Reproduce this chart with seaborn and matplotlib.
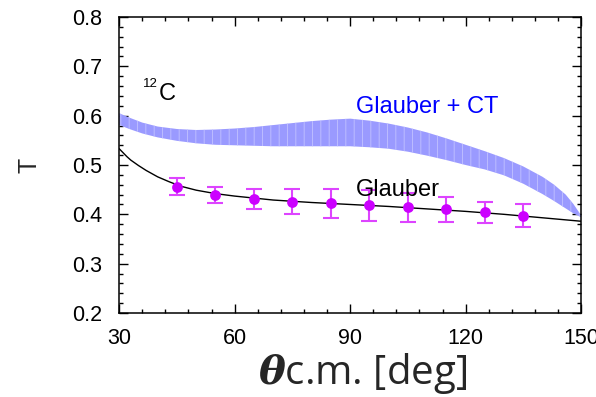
import numpy as np
import pandas as pd
import matplotlib
matplotlib.use("Agg")
import matplotlib.pyplot as plt
from matplotlib.ticker import MultipleLocator
import seaborn as sns

# ---- data ----
theta_data = [45, 55, 65, 75, 85, 95, 105, 115, 125, 135]
T_data = [0.456, 0.439, 0.431, 0.426, 0.422, 0.418, 0.414, 0.410, 0.404, 0.397]
T_err = [0.017, 0.016, 0.020, 0.025, 0.029, 0.032, 0.030, 0.026, 0.021, 0.023]

theta_glauber = [30, 31, 32, 33, 35, 37, 40, 43, 46, 50, 55, 60, 65, 70, 80, 90, 100,
                 110, 120, 130, 140, 150]
T_glauber = [0.533, 0.525, 0.517, 0.510, 0.499, 0.489, 0.476, 0.466, 0.457, 0.449, 0.442,
             0.437, 0.433, 0.429, 0.424, 0.420, 0.416, 0.411, 0.406, 0.400, 0.393, 0.386]

theta_ct = [30, 33, 36, 40, 45, 50, 55, 60, 65, 70, 75, 80, 85, 90, 95, 100, 105, 110,
            115, 120, 125, 130, 135, 140, 143, 146, 148, 150]
T_ct_upper = [0.605, 0.595, 0.586, 0.578, 0.573, 0.571, 0.572, 0.574, 0.577, 0.581, 0.585,
              0.589, 0.592, 0.594, 0.590, 0.584, 0.576, 0.566, 0.554, 0.541, 0.528, 0.514,
              0.497, 0.476, 0.460, 0.440, 0.421, 0.398]
T_ct_lower = [0.581, 0.572, 0.564, 0.556, 0.549, 0.544, 0.541, 0.540, 0.539, 0.538, 0.538,
              0.538, 0.538, 0.538, 0.536, 0.533, 0.527, 0.519, 0.510, 0.500, 0.491, 0.479,
              0.462, 0.441, 0.427, 0.412, 0.402, 0.394]

xticks = [30, 60, 90, 120, 150]
yticks = [0.2, 0.3, 0.4, 0.5, 0.6, 0.7, 0.8]

sns.set_style("ticks")
plt.rcParams['font.family'] = ['Liberation Sans', 'DejaVu Sans']
plt.rcParams['mathtext.fontset'] = 'dejavuserif'
plt.rcParams['hatch.linewidth'] = 0.6

fig = plt.figure(figsize=(5.96, 3.97), dpi=100)
ax = fig.add_axes([0.2, 0.2116, 0.775, 0.7455])

# Glauber + CT band
ax.fill_between(theta_ct, T_ct_lower, T_ct_upper, facecolor='#9a9aff', edgecolor='#c2c2ff',
                hatch='||', linewidth=0, zorder=1)

# Glauber line
df_g = pd.DataFrame({'theta': theta_glauber, 'T': T_glauber})
sns.lineplot(data=df_g, x='theta', y='T', color='black', linewidth=1.0, ax=ax, zorder=2)

# data points
ax.errorbar(theta_data, T_data, yerr=T_err, fmt='none', ecolor='#dd44ff', elinewidth=1.5,
            capsize=6, capthick=1.5, zorder=3)
df_d = pd.DataFrame({'theta': theta_data, 'T': T_data})
sns.scatterplot(data=df_d, x='theta', y='T', color='#cc00ff', s=60, edgecolor='#cc00ff',
                linewidth=0, ax=ax, zorder=4)

ax.set_xlim(30, 150)
ax.set_ylim(0.2, 0.8)
ax.set_xticks(xticks)
ax.set_yticks(yticks)
ax.set_xticklabels([str(v) for v in xticks])
ax.set_yticklabels([f"{v:.1f}" for v in yticks])
ax.xaxis.set_minor_locator(MultipleLocator(6))
ax.yaxis.set_minor_locator(MultipleLocator(0.02))
ax.tick_params(which='both', direction='in', top=True, right=True, labelsize=15.5,
               colors='black')
ax.tick_params(axis='x', which='major', pad=11)
ax.tick_params(axis='y', which='major', pad=12)
ax.tick_params(which='major', length=6.5, width=1)
ax.tick_params(which='minor', length=3, width=1)
for s in ax.spines.values():
    s.set_linewidth(1.1)
    s.set_color('black')
    s.set_visible(True)

ax.set_ylabel('T', fontsize=18, labelpad=22)
ax.set_xlabel(r'$\boldsymbol{\theta}$c.m. [deg]', fontsize=29, labelpad=1,
              family=['Open Sans', 'DejaVu Sans'])
ax.xaxis.label.set_x(0.526)

ax.text(36.2, 0.659, '12', fontsize=9.5, color='black')
ax.text(40.4, 0.631, 'C', fontsize=17, color='black')
ax.text(91.5, 0.605, 'Glauber + CT', fontsize=17, color='#0000ff', va='baseline')
ax.text(91.5, 0.4365, 'Glauber', fontsize=17, color='black', va='baseline')

fig.savefig('out.png', dpi=100)
